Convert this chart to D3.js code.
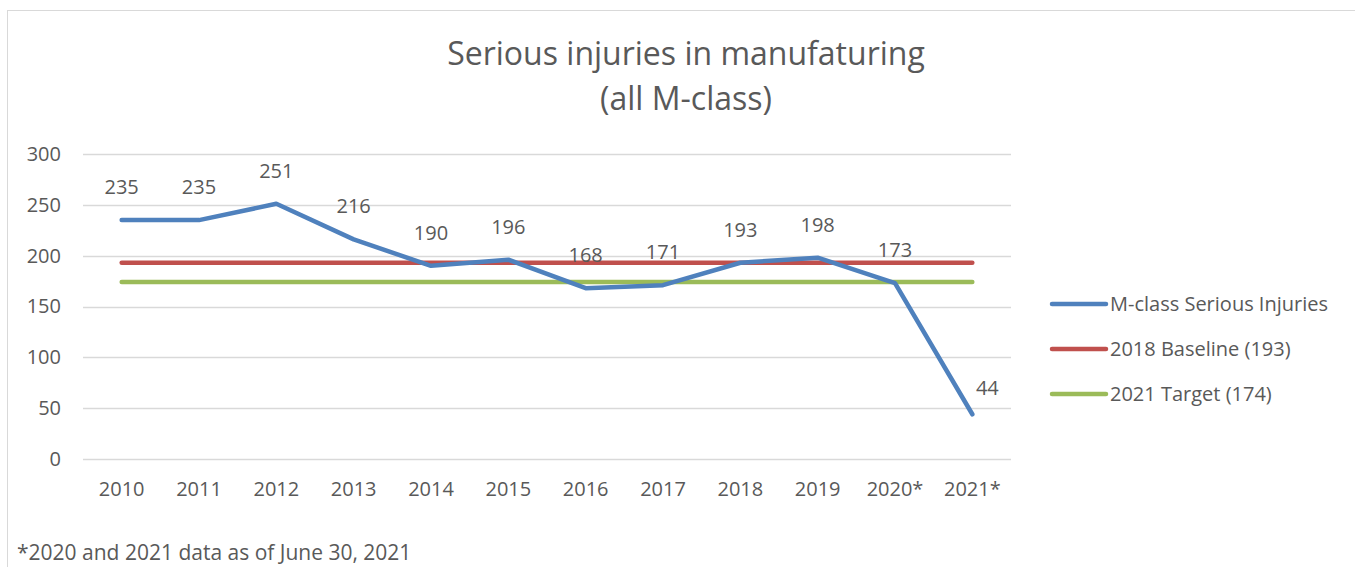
<!DOCTYPE html>
<html lang="en">
<head>
<meta charset="UTF-8">
<title>Serious injuries in manufaturing</title>
<script src="https://cdn.jsdelivr.net/npm/d3@7"></script>
<style>
  body { margin: 0; background: #fff; }
  text { font-family: "Open Sans", "Noto Sans", sans-serif; fill: #595959; }
</style>
</head>
<body>
<div id="chart"></div>
<script>
// data
var years = ["2010", "2011", "2012", "2013", "2014", "2015", "2016", "2017", "2018", "2019", "2020*", "2021*"];
var injuries = [235, 235, 251, 216, 190, 196, 168, 171, 193, 198, 173, 44];
var baseline = 193;
var target = 174;
var yTicks = [0, 50, 100, 150, 200, 250, 300];
var seriesNames = ["M-class Serious Injuries", "2018 Baseline (193)", "2021 Target (174)"];
var seriesColors = ["#4f81bd", "#c0504d", "#9bbb59"];

var W = 1355, H = 567;
var margin = {top: 154, right: 344, bottom: 108, left: 83};

var svg = d3.select("#chart").append("svg")
    .attr("width", W)
    .attr("height", H);

// outer chart border
svg.append("rect")
    .attr("x", 7.5).attr("y", 10.5)
    .attr("width", W).attr("height", H)
    .attr("fill", "none")
    .attr("stroke", "#d9d9d9");

var x = d3.scaleBand()
    .domain(years)
    .range([margin.left, W - margin.right]);

var y = d3.scaleLinear()
    .domain([0, 300])
    .range([H - margin.bottom, margin.top]);

var cx = function(d) { return x(d) + x.bandwidth() / 2; };

// gridlines
svg.append("g")
    .selectAll("line")
    .data(yTicks)
    .enter().append("line")
    .attr("x1", margin.left).attr("x2", W - margin.right)
    .attr("y1", function(d) { return Math.round(y(d)) + 0.5; })
    .attr("y2", function(d) { return Math.round(y(d)) + 0.5; })
    .attr("stroke", "#d9d9d9")
    .attr("stroke-width", 1.5);

// y axis labels
var yAxis = svg.append("g")
    .attr("transform", "translate(" + (margin.left - 22) + ",0)")
    .call(d3.axisLeft(y).tickValues(yTicks).tickSize(0).tickPadding(0));
yAxis.select(".domain").remove();
yAxis.selectAll("text")
    .attr("font-size", 20)
    .attr("font-family", null)
    .attr("fill", "#595959");

// x axis labels
var xAxis = svg.append("g")
    .attr("transform", "translate(0," + (H - margin.bottom + 23) + ")")
    .call(d3.axisBottom(x).tickSize(0).tickPadding(0));
xAxis.select(".domain").remove();
xAxis.selectAll("text")
    .attr("font-size", 20)
    .attr("font-family", null)
    .attr("fill", "#595959");

// baseline and target lines
var flat = d3.line()
    .x(function(d) { return cx(d); });

svg.append("path")
    .attr("d", flat.y(y(baseline))([years[0], years[years.length - 1]]))
    .attr("stroke", seriesColors[1])
    .attr("stroke-width", 4.5)
    .attr("stroke-linecap", "round")
    .attr("fill", "none");

svg.append("path")
    .attr("d", flat.y(y(target))([years[0], years[years.length - 1]]))
    .attr("stroke", seriesColors[2])
    .attr("stroke-width", 4.5)
    .attr("stroke-linecap", "round")
    .attr("fill", "none");

// main series
var line = d3.line()
    .x(function(d, i) { return cx(years[i]); })
    .y(function(d) { return y(d); });

svg.append("path")
    .datum(injuries)
    .attr("d", line)
    .attr("stroke", seriesColors[0])
    .attr("stroke-width", 4.5)
    .attr("stroke-linejoin", "round")
    .attr("stroke-linecap", "round")
    .attr("fill", "none");

// data labels (last one sits to the right, as in the original)
svg.append("g")
    .selectAll("text")
    .data(injuries)
    .enter().append("text")
    .attr("x", function(d, i) { return cx(years[i]) + (i === injuries.length - 1 ? 15 : 0); })
    .attr("y", function(d, i) { return y(d) - (i === injuries.length - 1 ? 19 : 26); })
    .attr("text-anchor", "middle")
    .attr("font-size", 20)
    .text(function(d) { return d; });

// title
svg.append("text")
    .attr("x", 686).attr("y", 65)
    .attr("text-anchor", "middle")
    .attr("font-size", 32)
    .text("Serious injuries in manufaturing");
svg.append("text")
    .attr("x", 686).attr("y", 110)
    .attr("text-anchor", "middle")
    .attr("font-size", 32)
    .text("(all M-class)");

// legend
var legend = svg.append("g")
    .selectAll("g")
    .data(seriesNames)
    .enter().append("g")
    .attr("transform", function(d, i) { return "translate(1052," + (304 + i * 45) + ")"; });

legend.append("line")
    .attr("x1", 0).attr("x2", 54)
    .attr("stroke", function(d, i) { return seriesColors[i]; })
    .attr("stroke-width", 4.5)
    .attr("stroke-linecap", "round");

legend.append("text")
    .attr("x", 58)
    .attr("dy", "0.35em")
    .attr("font-size", 20)
    .text(function(d) { return d; });

// footnote
svg.append("text")
    .attr("x", 17).attr("y", 560)
    .attr("font-size", 21)
    .text("*2020 and 2021 data as of June 30, 2021");
</script>
</body>
</html>
